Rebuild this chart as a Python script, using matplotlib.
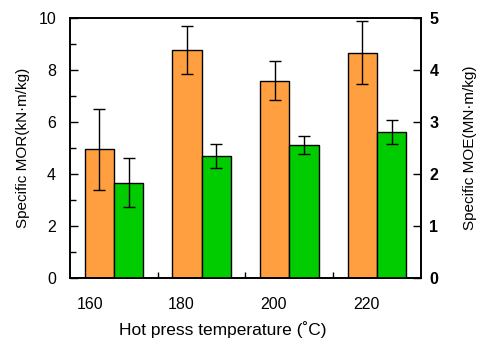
import matplotlib
matplotlib.use("Agg")
import matplotlib.pyplot as plt
import numpy as np

plt.rcParams['font.family'] = ['Liberation Sans', 'DejaVu Sans']

temps = ["160", "180", "200", "220"]
mor = [4.95, 8.77, 7.59, 8.67]
mor_err = [1.55, 0.91, 0.74, 1.2]
moe = [1.83, 2.35, 2.56, 2.8]
moe_err = [0.47, 0.225, 0.18, 0.23]
label_pos = [0.23, 1.27, 2.32, 3.38]

fig = plt.figure(figsize=(4.78, 3.38), dpi=100)
ax = fig.add_axes([70/478, 60/338, 351/478, 260/338])
ax2 = ax.twinx()

x = np.arange(len(temps)) + 0.5
w = 1/3
ax.bar(x - w/2, mor, w, color='#FF9F40', edgecolor='black', linewidth=1, zorder=2)
ax.errorbar(x - w/2, mor, yerr=mor_err, fmt='none', ecolor='black', elinewidth=1,
            capsize=4.3, capthick=1, zorder=3)
ax2.bar(x + w/2, moe, w, color='#00CC00', edgecolor='black', linewidth=1, zorder=2)
ax2.errorbar(x + w/2, moe, yerr=moe_err, fmt='none', ecolor='black', elinewidth=1,
             capsize=4.3, capthick=1, zorder=3)

ax.set_xlim(0, 4)
ax.set_ylim(0, 10)
ax2.set_ylim(0, 5)

ax.set_yticks([0, 2, 4, 6, 8, 10])
ax.set_yticks([1, 3, 5, 7, 9], minor=True)
ax.tick_params(axis='y', which='major', direction='in', length=6, width=1, labelsize=11.5, pad=10)
ax.tick_params(axis='y', which='minor', direction='in', length=4, width=1)

ax.set_xticks(label_pos)
ax.set_xticklabels(temps)
ax.set_xticks([1, 2, 3], minor=True)
ax.tick_params(axis='x', which='major', length=0, labelsize=11.5, pad=14)
ax.tick_params(axis='x', which='minor', direction='in', length=4, width=1)

ax2.set_yticks([0, 1, 2, 3, 4, 5])
ax2.tick_params(axis='y', which='major', direction='in', length=6, width=1, labelsize=11.5, pad=6)
for t in ax2.get_yticklabels():
    t.set_fontweight('bold')

for a in (ax, ax2):
    for s in a.spines.values():
        s.set_linewidth(1.2)

ax.set_ylabel("Specific MOR(kN·m/kg)", fontsize=11, labelpad=6)
ax2.set_ylabel("Specific MOE(MN·m/kg)", fontsize=11, labelpad=18)
ax.set_xlabel("Hot press temperature (˚C)", fontsize=12.5)
ax.xaxis.set_label_coords(0.436, -0.165)

fig.savefig("out.png", dpi=100)
